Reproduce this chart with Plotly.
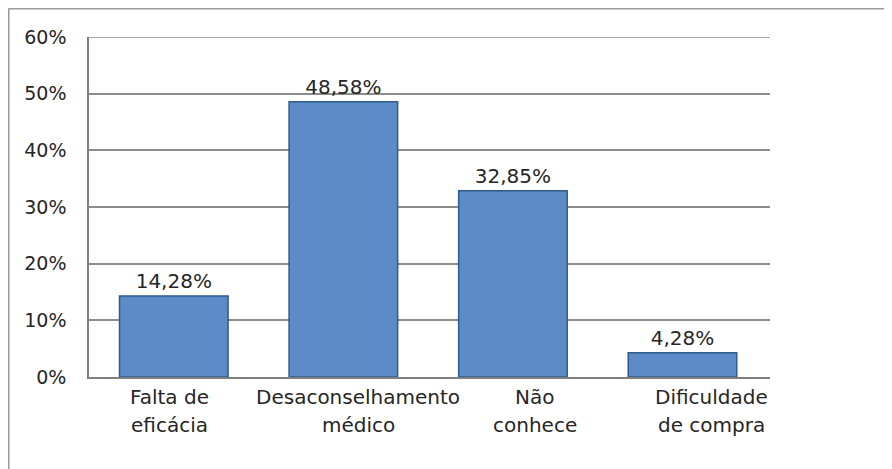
import plotly.graph_objects as go

categories = ["Falta de<br>eficácia", "Desaconselhamento<br>médico", "Não<br>conhece", "Dificuldade<br>de compra"]
values = [14.28, 48.58, 32.85, 4.28]
value_labels = ["14,28%", "48,58%", "32,85%", "4,28%"]
y_ticks = [0, 10, 20, 30, 40, 50, 60]
y_tick_labels = ["0%", "10%", "20%", "30%", "40%", "50%", "60%"]

# page has an 8px body margin; figure coordinates are offset accordingly
OFF = 8
W, H = 892, 469
L, R, T, B = 89 - OFF, 122 + OFF, 37 - OFF, 92 + OFF
pw, ph = W - L - R, H - T - B

def px2paper(x, y):
    # x, y in figure pixel coordinates
    return (x - L) / pw, (H - B - y) / ph

FONT = "DejaVu Sans"
TXT = "#262626"

fig = go.Figure()
fig.add_trace(go.Bar(
    x=categories, y=values,
    text=value_labels, textposition="outside",
    textfont=dict(family=FONT, size=20, color=TXT),
    marker=dict(color="#5B8CC8", line=dict(color="#2F5B8A", width=1.5)),
    width=0.64, cliponaxis=False,
))

label_xshift = [-4, 15, 22, 29]
annotations = []
for cat, xs in zip(categories, label_xshift):
    lines = cat.split("<br>")
    for i, ln in enumerate(lines):
        annotations.append(dict(
            x=cat, y=0, xref="x", yref="y", text=ln, showarrow=False,
            xanchor="center", yanchor="middle", xshift=xs, yshift=-20 - 28 * i,
            font=dict(family=FONT, size=20, color=TXT),
        ))

x0, y0 = px2paper(0.5, 0.5)
x1, _ = px2paper(W + 5, 0.5)
_, y1 = px2paper(0.5, H + 5)
shapes = [
    dict(type="line", xref="paper", yref="paper", x0=x0, y0=y0, x1=x1, y1=y0,
         line=dict(color="#9a9a9a", width=2)),
    dict(type="line", xref="paper", yref="paper", x0=x0, y0=y0, x1=x0, y1=y1,
         line=dict(color="#9a9a9a", width=2)),
]

fig.update_layout(
    width=W, height=H,
    margin=dict(l=L, r=R, t=T, b=B),
    paper_bgcolor="white", plot_bgcolor="white",
    showlegend=False,
    annotations=annotations, shapes=shapes,
    xaxis=dict(showticklabels=False, showgrid=False, zeroline=False,
               showline=True, linecolor="#808080", linewidth=1.5, ticks=""),
    yaxis=dict(range=[0, 60], tickvals=y_ticks, ticktext=y_tick_labels,
               showgrid=True, gridcolor="#8c8c8c", gridwidth=1.5,
               zeroline=False, showline=True, linecolor="#808080", linewidth=1.5,
               ticks="", ticklabelstandoff=17,
               tickfont=dict(family=FONT, size=19, color=TXT)),
)
fig.add_shape(type="line", xref="paper", yref="y", x0=0, x1=1, y0=60, y1=60,
              line=dict(color="#8c8c8c", width=1.5), layer="below")

fig.write_html("out.html")
